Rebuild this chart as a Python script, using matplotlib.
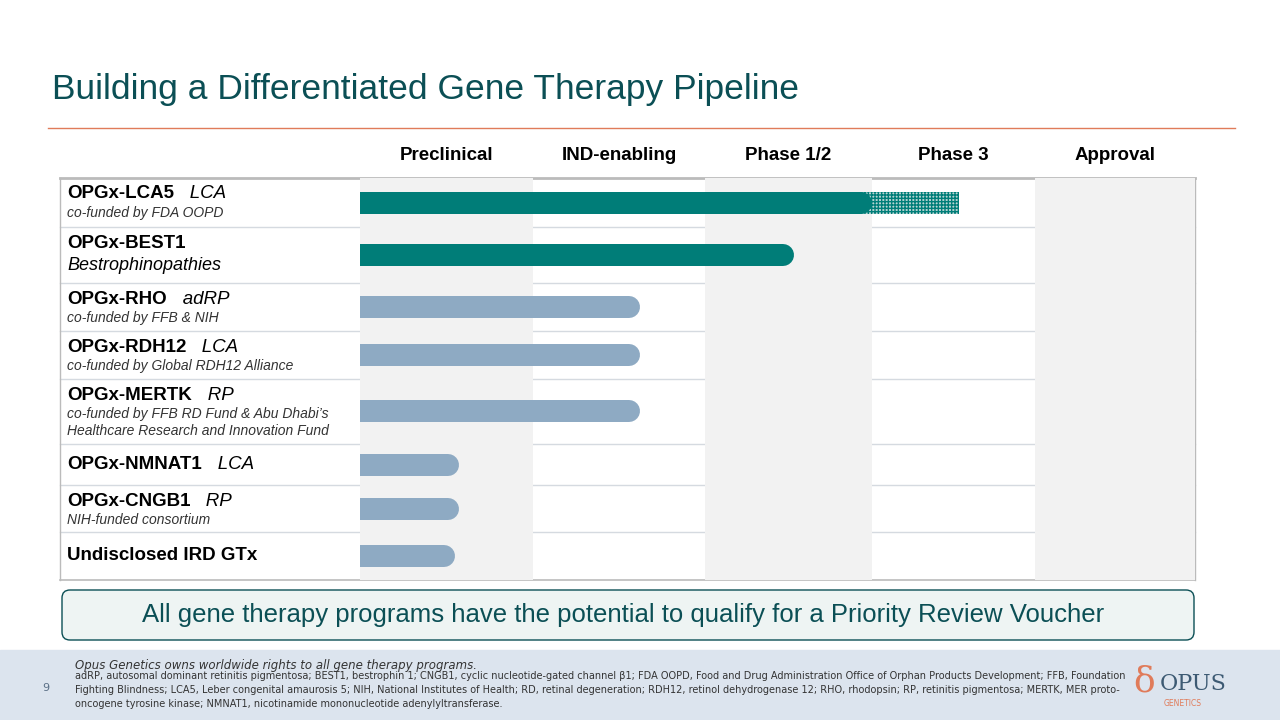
import numpy as np
import matplotlib.pyplot as plt
from matplotlib.patches import Rectangle, FancyBboxPatch

phases = ["Preclinical", "IND-enabling", "Phase 1/2", "Phase 3", "Approval"]
names = ["OPGx-LCA5", "OPGx-BEST1", "OPGx-RHO", "OPGx-RDH12", "OPGx-MERTK",
         "OPGx-NMNAT1", "OPGx-CNGB1", "Undisclosed IRD GTx"]
indications = ["LCA", "", "adRP", "LCA", "RP", "LCA", "RP", ""]
notes = ["co-funded by FDA OOPD", "", "co-funded by FFB & NIH",
         "co-funded by Global RDH12 Alliance",
         "co-funded by FFB RD Fund & Abu Dhabi\u2019s\nHealthcare Research and Innovation Fund",
         "", "NIH-funded consortium", ""]
progress = [3.0, 2.53, 1.62, 1.62, 1.62, 0.57, 0.57, 0.55]
planned = [3.6, None, None, None, None, None, None, None]
lead = [True, True, False, False, False, False, False, False]

# layout in pixels
row_edges = [178, 227, 283, 331, 379, 444, 485, 532, 580]
col_edges = [360, 533, 705, 872, 1035, 1195]

TEAL = "#007d78"
BLUE = "#8eaac3"
DARK = "#0b4f55"
FONT = "Liberation Sans"

W, H = 1280, 720
fig = plt.figure(figsize=(12.8, 7.2), dpi=100)
bg = fig.add_axes([0, 0, 1, 1])
bg.set_xlim(0, W)
bg.set_ylim(H, 0)
bg.axis("off")

bg.text(52, 89, "Building a Differentiated Gene Therapy Pipeline", fontsize=25.5,
        color=DARK, va="center", family=FONT)
bg.plot([48, 1235], [128, 128], color="#e07b5a", lw=1)

# footer
bg.add_patch(Rectangle((0, 650), W, 70, color="#dce4ee", zorder=0))
bg.text(42, 688, "9", fontsize=8, color="#5a6f86", va="center")
bg.text(75, 665, "Opus Genetics owns worldwide rights to all gene therapy programs.",
        fontsize=8.5, style="italic", color="#333333", va="center", family="Liberation Sans Narrow")
bg.text(75, 690, "adRP, autosomal dominant retinitis pigmentosa; BEST1, bestrophin 1; CNGB1, cyclic nucleotide-gated channel \u03b21; "
        "FDA OOPD, Food and Drug Administration Office of Orphan Products Development; FFB, Foundation\n"
        "Fighting Blindness; LCA5, Leber congenital amaurosis 5; NIH, National Institutes of Health; RD, retinal degeneration; "
        "RDH12, retinol dehydrogenase 12; RHO, rhodopsin; RP, retinitis pigmentosa; MERTK, MER proto-\n"
        "oncogene tyrosine kinase; NMNAT1, nicotinamide mononucleotide adenylyltransferase.",
        fontsize=7, color="#333333", va="center", linespacing=1.45, family="Liberation Sans Narrow")
bg.text(1160, 684, "OPUS", fontsize=16, color="#3d5a73", va="center", family="DejaVu Serif")
bg.text(1164, 703, "GENETICS", fontsize=5.5, color="#e07b5a", va="center")
bg.text(1133, 681, "\u03b4", fontsize=26, color="#e07b5a", va="center", family="DejaVu Serif")

# callout box
bg.add_patch(FancyBboxPatch((62, 590), 1132, 50, boxstyle="round,pad=0,rounding_size=8",
                            fc="#eef4f3", ec=DARK, lw=1))
bg.text(623, 615, "All gene therapy programs have the potential to qualify for a Priority Review Voucher",
        fontsize=18.5, color=DARK, ha="center", va="center", family=FONT)

# table frame and labels
bg.plot([60, 1195], [row_edges[0], row_edges[0]], color="#bbbbbb", lw=2)
for y in row_edges[1:-1]:
    bg.plot([60, 1195], [y, y], color="#d5dae0", lw=1)
bg.plot([60, 1195], [row_edges[-1], row_edges[-1]], color="#bbbbbb", lw=1.2)
bg.plot([60, 60], [row_edges[0], row_edges[-1]], color="#bbbbbb", lw=1)
bg.plot([1195, 1195], [row_edges[0], row_edges[-1]], color="#bbbbbb", lw=1)

for i, name in enumerate(names):
    top, bot = row_edges[i], row_edges[i + 1]
    if notes[i] or name == "OPGx-BEST1":
        ty = top + 16
    else:
        ty = (top + bot) / 2
    t = bg.text(67, ty, name, fontsize=13.5, fontweight="bold", color="black", va="center",
                family=FONT)
    if indications[i]:
        bg.annotate("   " + indications[i], xycoords=t, xy=(1, 0.5), va="center",
                    fontsize=13.5, style="italic", family=FONT)
    if name == "OPGx-BEST1":
        bg.text(67, ty + 22, "Bestrophinopathies", fontsize=13, style="italic", va="center",
                family=FONT)
    elif notes[i]:
        bg.text(67, ty + 12, notes[i], fontsize=10, style="italic", color="#333333", va="top",
                linespacing=1.3, family=FONT)

# pipeline axes, x in pixels; phase units mapped via column edges
x0, x1 = col_edges[0], col_edges[-1]
ax = fig.add_axes([x0 / W, 1 - row_edges[-1] / H, (x1 - x0) / W, (row_edges[-1] - row_edges[0]) / H])
ax.set_xlim(x0, x1)
ax.set_ylim(row_edges[-1], row_edges[0])
ax.axis("off")


def px(v):
    return np.interp(v, np.arange(len(col_edges)), col_edges)


for k in range(0, 5, 2):
    ax.add_patch(Rectangle((col_edges[k], row_edges[0]), col_edges[k + 1] - col_edges[k],
                           row_edges[-1] - row_edges[0], color="#f2f2f2", zorder=0, lw=0))
for i, p in enumerate(phases):
    bg.text((col_edges[i] + col_edges[i + 1]) / 2, 155, p, fontsize=13.5, fontweight="bold",
            ha="center", va="center", family=FONT)

bar_px = 22
r = bar_px / 2
lw_pt = bar_px * 72 / 100
for i, v in enumerate(progress):
    yc = (row_edges[i] + row_edges[i + 1]) / 2
    if i == 4:
        yc = 411
    col = TEAL if lead[i] else BLUE
    if planned[i]:
        end = px(planned[i])
        ax.plot([end - r, end - r], [yc, yc], color=TEAL, lw=lw_pt,
                solid_capstyle="round", alpha=0.75, zorder=2)
        ax.add_patch(Rectangle((px(v) - r, yc - bar_px / 2), end - px(v), bar_px,
                               fc="#b8d4d2", ec=TEAL, hatch="+++++", lw=0, zorder=3))
    ax.plot([x0 - 30, px(v) - r], [yc, yc], color=col, lw=lw_pt, solid_capstyle="round", zorder=4)

fig.savefig("out.png", dpi=100)
